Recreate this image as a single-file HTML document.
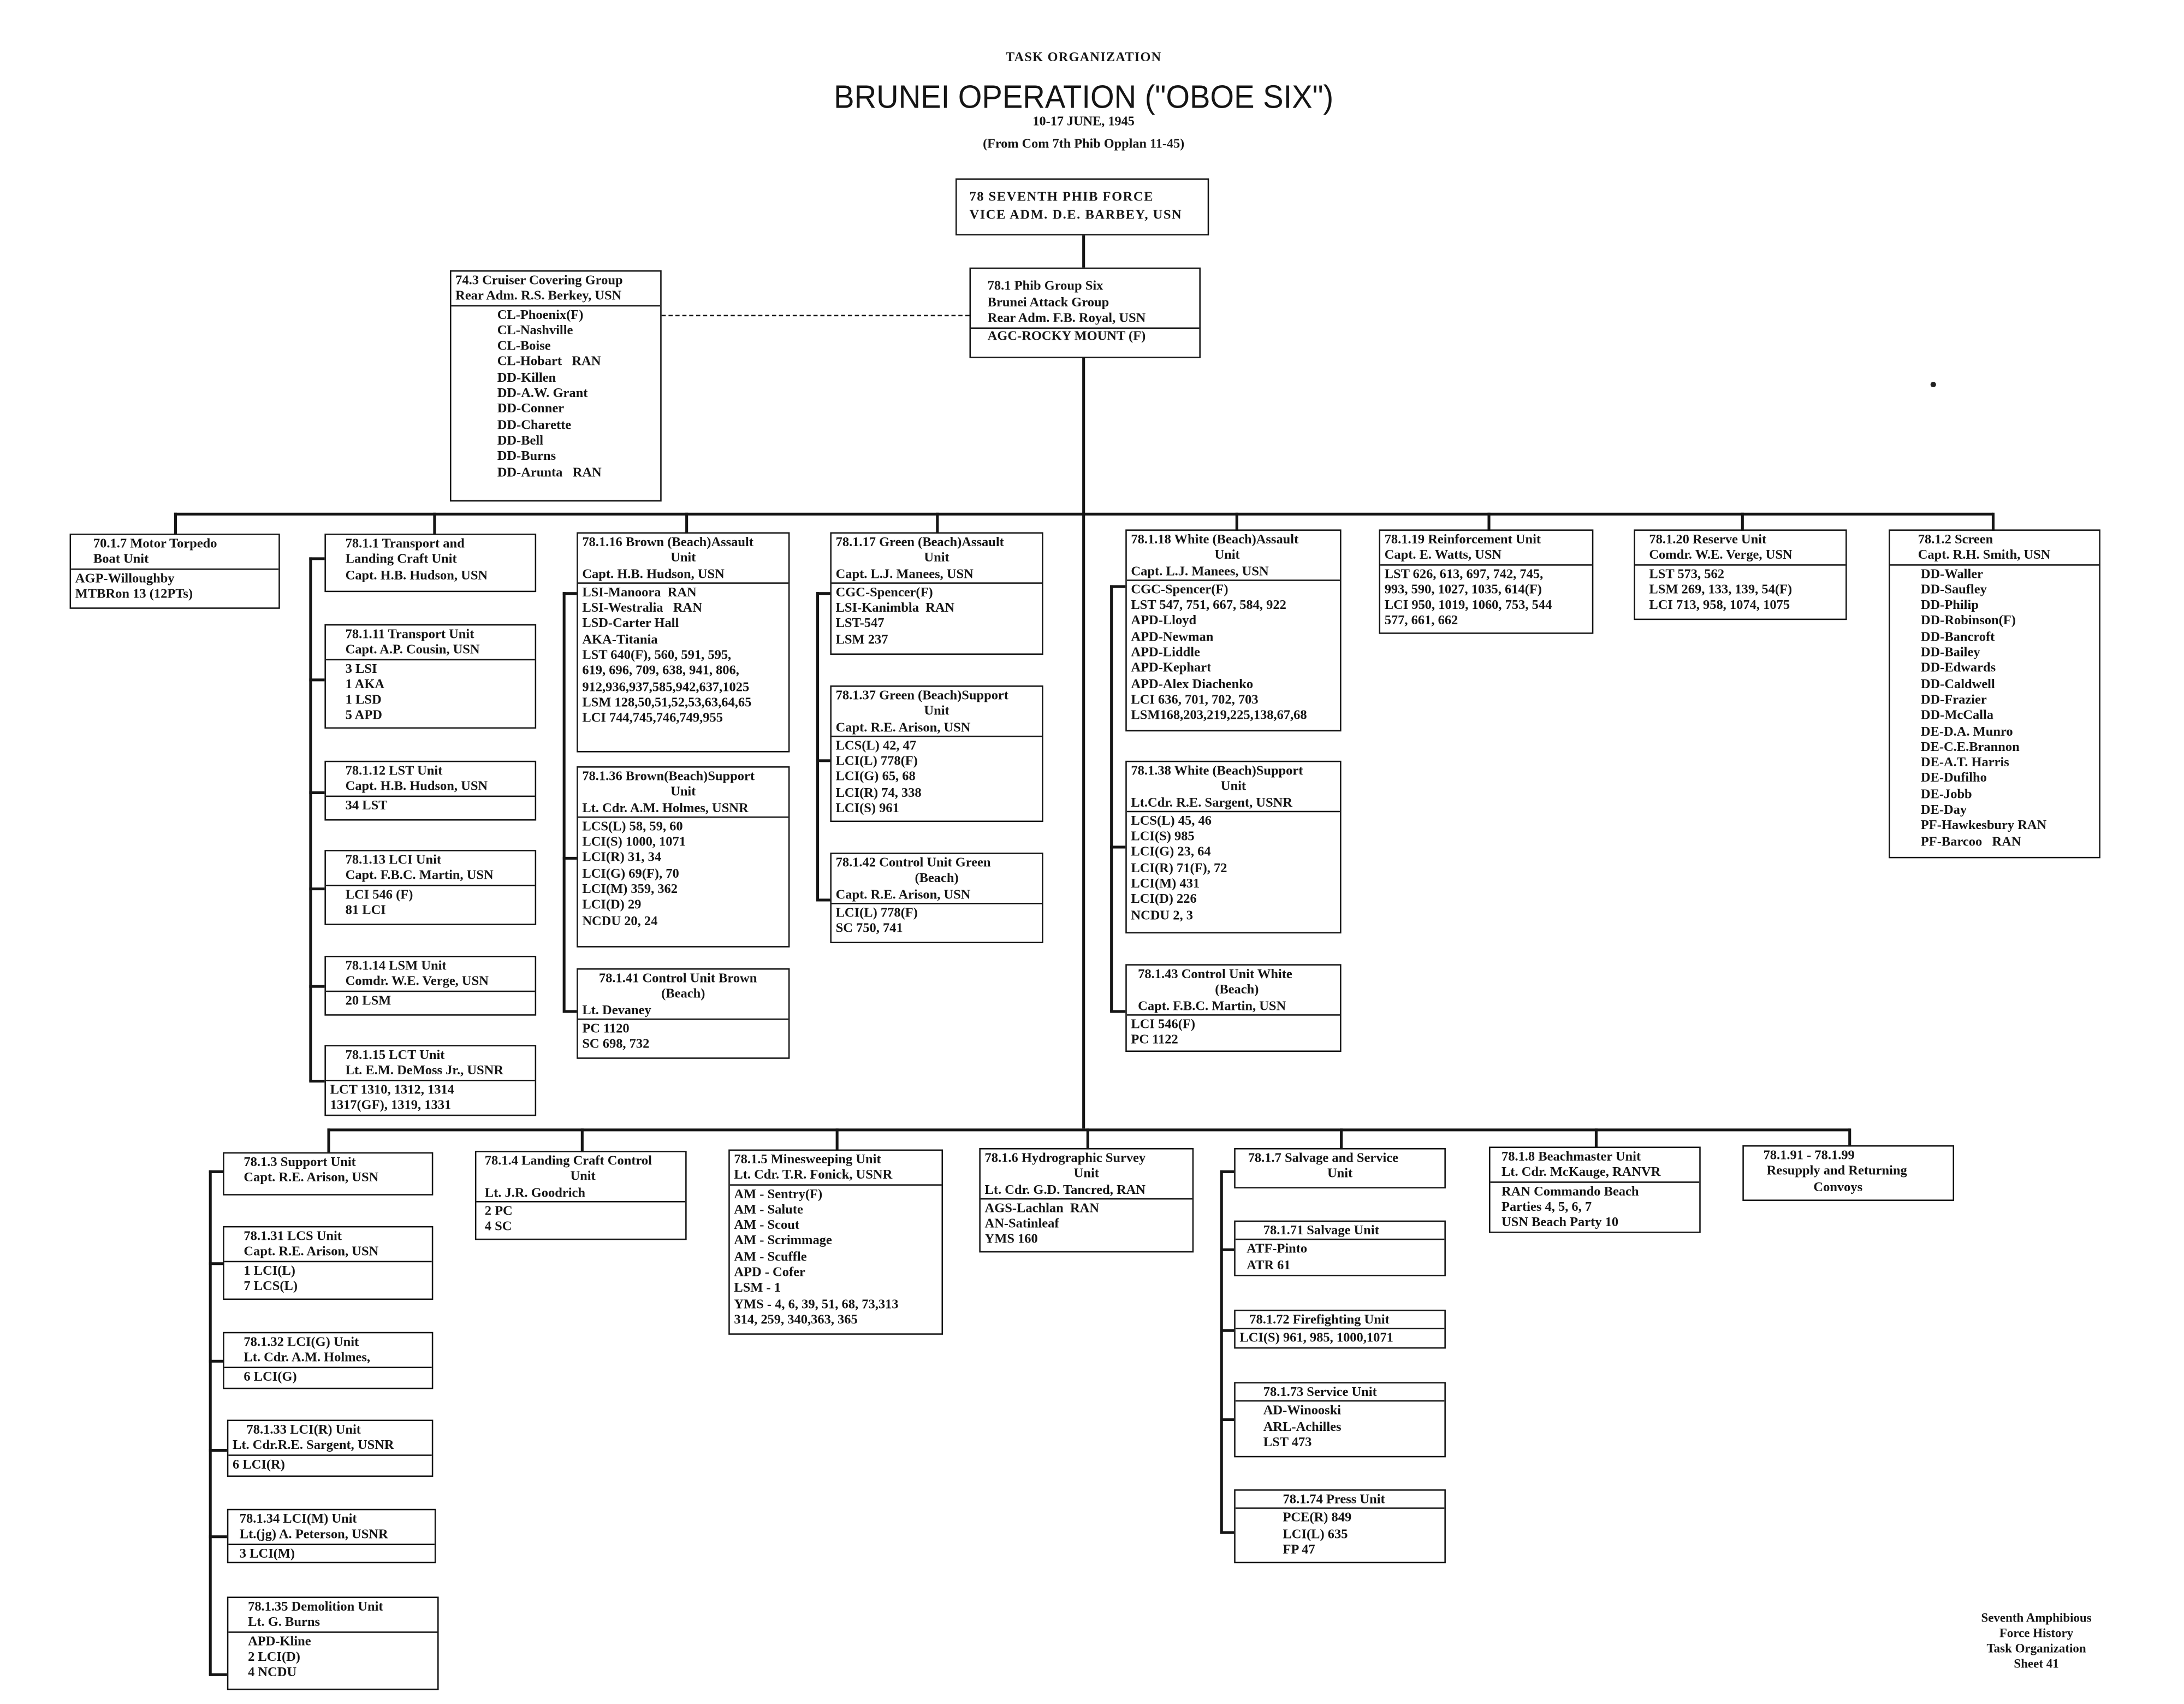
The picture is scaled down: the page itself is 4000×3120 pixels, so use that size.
<!DOCTYPE html>
<html><head><meta charset="utf-8"><style>
html,body{margin:0;padding:0;background:#fff;}
#w{position:absolute;left:0;top:0;width:1568px;height:1223px;transform:scale(2.5510);transform-origin:0 0;background:#fff;}
.b{position:absolute;border:1.4px solid #151515;font:bold 9.6px/11.3px "Liberation Serif",serif;color:#151515;padding:1px 3px;box-sizing:border-box;white-space:nowrap;overflow:hidden;}
.h{border-bottom:1.3px solid #151515;margin:0 -3px 1px;padding:0 3px;}
.c{text-align:center}
.i{padding-left:30px}
.l{position:absolute;background:#151515;}
.t{position:absolute;font-family:"Liberation Serif",serif;color:#151515;text-align:center;white-space:nowrap;}
</style></head><body><div id="w">
<div class="t" style="left:678px;top:37px;width:200px;font-size:9.5px;font-weight:bold;letter-spacing:.5px">TASK ORGANIZATION</div>
<div class="t" style="left:578px;top:57px;width:400px;font:22px 'Liberation Sans',sans-serif;transform:scaleY(1.05)">BRUNEI OPERATION ("OBOE SIX")</div>
<div class="t" style="left:678px;top:83px;width:200px;font-size:9.5px;font-weight:bold">10-17 JUNE, 1945</div>
<div class="t" style="left:658px;top:99px;width:240px;font-size:9.5px;font-weight:bold">(From Com 7th Phib Opplan 11-45)</div>

<!-- main lines -->
<div class="l" style="left:777px;top:169px;width:1.5px;height:23px"></div>
<div class="l" style="left:777px;top:257px;width:1.5px;height:553px"></div>
<div style="position:absolute;left:475px;top:226px;width:221px;border-top:1.3px dashed #151515"></div>
<div class="l" style="left:125px;top:368px;width:1306px;height:1.5px"></div>
<div class="l" style="left:235px;top:810px;width:1093px;height:1.5px"></div>
<!-- top drops -->
<div class="l" style="left:125px;top:368px;width:1.5px;height:16px"></div>
<div class="l" style="left:311px;top:368px;width:1.5px;height:16px"></div>
<div class="l" style="left:492px;top:368px;width:1.5px;height:15px"></div>
<div class="l" style="left:672px;top:368px;width:1.5px;height:15px"></div>
<div class="l" style="left:887px;top:368px;width:1.5px;height:13px"></div>
<div class="l" style="left:1068px;top:368px;width:1.5px;height:13px"></div>
<div class="l" style="left:1250px;top:368px;width:1.5px;height:13px"></div>
<div class="l" style="left:1430px;top:368px;width:1.5px;height:13px"></div>
<!-- bottom drops -->
<div class="l" style="left:235px;top:810px;width:1.5px;height:17px"></div>
<div class="l" style="left:417px;top:810px;width:1.5px;height:17px"></div>
<div class="l" style="left:600px;top:810px;width:1.5px;height:16px"></div>
<div class="l" style="left:780px;top:810px;width:1.5px;height:15px"></div>
<div class="l" style="left:962px;top:810px;width:1.5px;height:15px"></div>
<div class="l" style="left:1145px;top:810px;width:1.5px;height:14px"></div>
<div class="l" style="left:1327px;top:810px;width:1.5px;height:13px"></div>

<!-- sub verticals + stubs -->
<div class="l" style="left:222px;top:400px;width:1.5px;height:376px"></div>
<div class="l" style="left:222px;top:400px;width:11px;height:1.5px"></div>
<div class="l" style="left:222px;top:487px;width:11px;height:1.5px"></div>
<div class="l" style="left:222px;top:568px;width:11px;height:1.5px"></div>
<div class="l" style="left:222px;top:637px;width:11px;height:1.5px"></div>
<div class="l" style="left:222px;top:707px;width:11px;height:1.5px"></div>
<div class="l" style="left:222px;top:775px;width:11px;height:1.5px"></div>

<div class="l" style="left:404px;top:425px;width:1.5px;height:300px"></div>
<div class="l" style="left:404px;top:425px;width:10px;height:1.5px"></div>
<div class="l" style="left:404px;top:615px;width:10px;height:1.5px"></div>
<div class="l" style="left:404px;top:725px;width:10px;height:1.5px"></div>

<div class="l" style="left:586px;top:425px;width:1.5px;height:221px"></div>
<div class="l" style="left:586px;top:425px;width:10px;height:1.5px"></div>
<div class="l" style="left:586px;top:545px;width:10px;height:1.5px"></div>
<div class="l" style="left:586px;top:645px;width:10px;height:1.5px"></div>

<div class="l" style="left:797px;top:420px;width:1.5px;height:306px"></div>
<div class="l" style="left:797px;top:420px;width:11px;height:1.5px"></div>
<div class="l" style="left:797px;top:607px;width:11px;height:1.5px"></div>
<div class="l" style="left:797px;top:725px;width:11px;height:1.5px"></div>

<div class="l" style="left:150px;top:840px;width:1.5px;height:362px"></div>
<div class="l" style="left:150px;top:840px;width:10px;height:1.5px"></div>
<div class="l" style="left:150px;top:906px;width:10px;height:1.5px"></div>
<div class="l" style="left:150px;top:976px;width:10px;height:1.5px"></div>
<div class="l" style="left:150px;top:1040px;width:13px;height:1.5px"></div>
<div class="l" style="left:150px;top:1102px;width:13px;height:1.5px"></div>
<div class="l" style="left:150px;top:1201px;width:13px;height:1.5px"></div>

<div class="l" style="left:876px;top:840px;width:1.5px;height:260px"></div>
<div class="l" style="left:876px;top:840px;width:10px;height:1.5px"></div>
<div class="l" style="left:876px;top:896px;width:10px;height:1.5px"></div>
<div class="l" style="left:876px;top:954px;width:10px;height:1.5px"></div>
<div class="l" style="left:876px;top:1018px;width:10px;height:1.5px"></div>
<div class="l" style="left:876px;top:1099px;width:10px;height:1.5px"></div>

<!-- header boxes -->
<div class="b" style="left:686px;top:128px;width:182px;height:41px;padding:7px 9px;letter-spacing:.6px;line-height:12.5px">78 SEVENTH PHIB FORCE<br>VICE ADM. D.E. BARBEY, USN</div>
<div class="b" style="left:696px;top:192px;width:166px;height:65px;padding:7px 6px 0;line-height:11.5px"><div style="padding-left:6px">78.1 Phib Group Six<br>Brunei Attack Group</div><div class="h" style="margin:0 -6px;padding:0 12px">Rear Adm. F.B. Royal, USN</div><div style="padding-left:6px">AGC-ROCKY MOUNT (F)</div></div>
<div class="b" style="left:323px;top:194px;width:152px;height:166px"><div class="h">74.3 Cruiser Covering Group<br>Rear Adm. R.S. Berkey, USN</div><div class="i">CL-Phoenix(F)<br>CL-Nashville<br>CL-Boise<br>CL-Hobart&nbsp;&nbsp; RAN<br>DD-Killen<br>DD-A.W. Grant<br>DD-Conner<br>DD-Charette<br>DD-Bell<br>DD-Burns<br>DD-Arunta&nbsp;&nbsp; RAN</div></div>

<!-- top row -->
<div class="b" style="left:50px;top:383px;width:151px;height:54px"><div class="h" style="padding-left:16px">70.1.7 Motor Torpedo<br>Boat Unit</div>AGP-Willoughby<br>MTBRon 13 (12PTs)</div>
<div class="b" style="left:233px;top:383px;width:152px;height:42px;padding-left:14px">78.1.1 Transport and<br>Landing Craft Unit<br>Capt. H.B. Hudson, USN</div>
<div class="b" style="left:233px;top:448px;width:152px;height:75px;padding-left:14px"><div class="h" style="margin-left:-14px;padding-left:14px">78.1.11 Transport Unit<br>Capt. A.P. Cousin, USN</div>3 LSI<br>1 AKA<br>1 LSD<br>5 APD</div>
<div class="b" style="left:233px;top:546px;width:152px;height:43px;padding-left:14px"><div class="h" style="margin-left:-14px;padding-left:14px">78.1.12 LST Unit<br>Capt. H.B. Hudson, USN</div>34 LST</div>
<div class="b" style="left:233px;top:610px;width:152px;height:54px;padding-left:14px"><div class="h" style="margin-left:-14px;padding-left:14px">78.1.13 LCI Unit<br>Capt. F.B.C. Martin, USN</div>LCI 546 (F)<br>81 LCI</div>
<div class="b" style="left:233px;top:686px;width:152px;height:43px;padding-left:14px"><div class="h" style="margin-left:-14px;padding-left:14px">78.1.14 LSM Unit<br>Comdr. W.E. Verge, USN</div>20 LSM</div>
<div class="b" style="left:233px;top:750px;width:152px;height:51px;padding-left:3px"><div class="h" style="padding-left:14px">78.1.15 LCT Unit<br>Lt. E.M. DeMoss Jr., USNR</div>LCT 1310, 1312, 1314<br>1317(GF), 1319, 1331</div>

<div class="b" style="left:414px;top:382px;width:153px;height:158px"><div class="h">78.1.16 Brown (Beach)Assault<div class="c">Unit</div>Capt. H.B. Hudson, USN</div>LSI-Manoora&nbsp; RAN<br>LSI-Westralia&nbsp;&nbsp; RAN<br>LSD-Carter Hall<br>AKA-Titania<br>LST 640(F), 560, 591, 595,<br>619, 696, 709, 638, 941, 806,<br>912,936,937,585,942,637,1025<br>LSM 128,50,51,52,53,63,64,65<br>LCI 744,745,746,749,955</div>
<div class="b" style="left:414px;top:550px;width:153px;height:130px"><div class="h">78.1.36 Brown(Beach)Support<div class="c">Unit</div>Lt. Cdr. A.M. Holmes, USNR</div>LCS(L) 58, 59, 60<br>LCI(S) 1000, 1071<br>LCI(R) 31, 34<br>LCI(G) 69(F), 70<br>LCI(M) 359, 362<br>LCI(D) 29<br>NCDU 20, 24</div>
<div class="b" style="left:414px;top:695px;width:153px;height:65px"><div class="h"><div style="padding-left:12px">78.1.41 Control Unit Brown</div><div class="c">(Beach)</div>Lt. Devaney</div>PC 1120<br>SC 698, 732</div>

<div class="b" style="left:596px;top:382px;width:153px;height:88px"><div class="h">78.1.17 Green (Beach)Assault<div class="c">Unit</div>Capt. L.J. Manees, USN</div>CGC-Spencer(F)<br>LSI-Kanimbla&nbsp; RAN<br>LST-547<br>LSM 237</div>
<div class="b" style="left:596px;top:492px;width:153px;height:98px"><div class="h">78.1.37 Green (Beach)Support<div class="c">Unit</div>Capt. R.E. Arison, USN</div>LCS(L) 42, 47<br>LCI(L) 778(F)<br>LCI(G) 65, 68<br>LCI(R) 74, 338<br>LCI(S) 961</div>
<div class="b" style="left:596px;top:612px;width:153px;height:65px"><div class="h">78.1.42 Control Unit Green<div class="c">(Beach)</div>Capt. R.E. Arison, USN</div>LCI(L) 778(F)<br>SC 750, 741</div>

<div class="b" style="left:808px;top:380px;width:155px;height:145px"><div class="h">78.1.18 White (Beach)Assault<div style="padding-left:60px">Unit</div>Capt. L.J. Manees, USN</div>CGC-Spencer(F)<br>LST 547, 751, 667, 584, 922<br>APD-Lloyd<br>APD-Newman<br>APD-Liddle<br>APD-Kephart<br>APD-Alex Diachenko<br>LCI 636, 701, 702, 703<br>LSM168,203,219,225,138,67,68</div>
<div class="b" style="left:808px;top:546px;width:155px;height:124px"><div class="h">78.1.38 White (Beach)Support<div class="c">Unit</div>Lt.Cdr. R.E. Sargent, USNR</div>LCS(L) 45, 46<br>LCI(S) 985<br>LCI(G) 23, 64<br>LCI(R) 71(F), 72<br>LCI(M) 431<br>LCI(D) 226<br>NCDU 2, 3</div>
<div class="b" style="left:808px;top:692px;width:155px;height:63px"><div class="h" style="padding-left:8px">78.1.43 Control Unit White<div class="c">(Beach)</div>Capt. F.B.C. Martin, USN</div>LCI 546(F)<br>PC 1122</div>

<div class="b" style="left:990px;top:380px;width:154px;height:75px"><div class="h">78.1.19 Reinforcement Unit<br>Capt. E. Watts, USN</div>LST 626, 613, 697, 742, 745,<br>993, 590, 1027, 1035, 614(F)<br>LCI 950, 1019, 1060, 753, 544<br>577, 661, 662</div>
<div class="b" style="left:1173px;top:380px;width:153px;height:65px;padding-left:10px"><div class="h" style="margin-left:-10px;padding-left:10px">78.1.20 Reserve Unit<br>Comdr. W.E. Verge, USN</div>LST 573, 562<br>LSM 269, 133, 139, 54(F)<br>LCI 713, 958, 1074, 1075</div>
<div class="b" style="left:1356px;top:380px;width:152px;height:236px;padding-left:22px"><div class="h" style="margin-left:-22px;padding-left:20px">78.1.2 Screen<br>Capt. R.H. Smith, USN</div>DD-Waller<br>DD-Saufley<br>DD-Philip<br>DD-Robinson(F)<br>DD-Bancroft<br>DD-Bailey<br>DD-Edwards<br>DD-Caldwell<br>DD-Frazier<br>DD-McCalla<br>DE-D.A. Munro<br>DE-C.E.Brannon<br>DE-A.T. Harris<br>DE-Dufilho<br>DE-Jobb<br>DE-Day<br>PF-Hawkesbury RAN<br>PF-Barcoo&nbsp;&nbsp; RAN</div>

<!-- bottom row -->
<div class="b" style="left:160px;top:827px;width:151px;height:31px;padding-left:14px">78.1.3 Support Unit<br>Capt. R.E. Arison, USN</div>
<div class="b" style="left:160px;top:880px;width:151px;height:53px;padding-left:14px"><div class="h" style="margin-left:-14px;padding-left:14px">78.1.31 LCS Unit<br>Capt. R.E. Arison, USN</div>1 LCI(L)<br>7 LCS(L)</div>
<div class="b" style="left:160px;top:956px;width:151px;height:41px;padding-left:14px"><div class="h" style="margin-left:-14px;padding-left:14px">78.1.32 LCI(G) Unit<br>Lt. Cdr. A.M. Holmes,</div>6 LCI(G)</div>
<div class="b" style="left:163px;top:1019px;width:148px;height:41px"><div class="h"><span style="padding-left:10px">78.1.33 LCI(R) Unit</span><br>Lt. Cdr.R.E. Sargent, USNR</div>6 LCI(R)</div>
<div class="b" style="left:163px;top:1083px;width:150px;height:39px;padding-left:8px"><div class="h" style="margin-left:-8px;padding-left:8px">78.1.34 LCI(M) Unit<br>Lt.(jg) A. Peterson, USNR</div>3 LCI(M)</div>
<div class="b" style="left:163px;top:1146px;width:152px;height:67px;padding-left:14px"><div class="h" style="margin-left:-14px;padding-left:14px">78.1.35 Demolition Unit<br>Lt. G. Burns</div>APD-Kline<br>2 LCI(D)<br>4 NCDU</div>
<div class="b" style="left:341px;top:826px;width:152px;height:64px;padding-left:6px"><div class="h" style="margin-left:-6px;padding-left:6px">78.1.4 Landing Craft Control<div class="c">Unit</div>Lt. J.R. Goodrich</div>2 PC<br>4 SC</div>
<div class="b" style="left:523px;top:825px;width:154px;height:133px"><div class="h">78.1.5 Minesweeping Unit<br>Lt. Cdr. T.R. Fonick, USNR</div>AM - Sentry(F)<br>AM - Salute<br>AM - Scout<br>AM - Scrimmage<br>AM - Scuffle<br>APD - Cofer<br>LSM - 1<br>YMS - 4, 6, 39, 51, 68, 73,313<br>314, 259, 340,363, 365</div>
<div class="b" style="left:703px;top:824px;width:154px;height:75px"><div class="h">78.1.6 Hydrographic Survey<div class="c">Unit</div>Lt. Cdr. G.D. Tancred, RAN</div>AGS-Lachlan&nbsp; RAN<br>AN-Satinleaf<br>YMS 160</div>
<div class="b" style="left:886px;top:824px;width:152px;height:29px"><div style="padding-left:6px">78.1.7 Salvage and Service</div><div class="c">Unit</div></div>
<div class="b" style="left:886px;top:876px;width:152px;height:40px;padding-left:8px"><div class="h" style="margin-left:-8px;padding-left:20px">78.1.71 Salvage Unit</div>ATF-Pinto<br>ATR 61</div>
<div class="b" style="left:886px;top:940px;width:152px;height:28px"><div class="h" style="padding-left:10px">78.1.72 Firefighting Unit</div>LCI(S) 961, 985, 1000,1071</div>
<div class="b" style="left:886px;top:992px;width:152px;height:54px;padding-left:20px"><div class="h" style="margin-left:-20px;padding-left:20px">78.1.73 Service Unit</div>AD-Winooski<br>ARL-Achilles<br>LST 473</div>
<div class="b" style="left:886px;top:1069px;width:152px;height:53px;padding-left:34px"><div class="h" style="margin-left:-34px;padding-left:34px">78.1.74 Press Unit</div>PCE(R) 849<br>LCI(L) 635<br>FP 47</div>
<div class="b" style="left:1069px;top:823px;width:152px;height:62px;padding-left:8px"><div class="h" style="margin-left:-8px;padding-left:8px">78.1.8 Beachmaster Unit<br>Lt. Cdr. McKauge, RANVR</div>RAN Commando Beach<br>Parties 4, 5, 6, 7<br>USN Beach Party 10</div>
<div class="b" style="left:1251px;top:822px;width:152px;height:40px;padding-left:14px">78.1.91 - 78.1.99<br>&nbsp;Resupply and Returning<br><span style="padding-left:36px">Convoys</span></div>

<div class="t" style="left:1400px;top:1156px;width:124px;font-size:9px;font-weight:bold;line-height:11px">Seventh Amphibious<br>Force History<br>Task Organization<br>Sheet 41</div>
<div style="position:absolute;left:1386px;top:274px;width:4px;height:4px;border-radius:2px;background:#222"></div>
</div></body></html>
